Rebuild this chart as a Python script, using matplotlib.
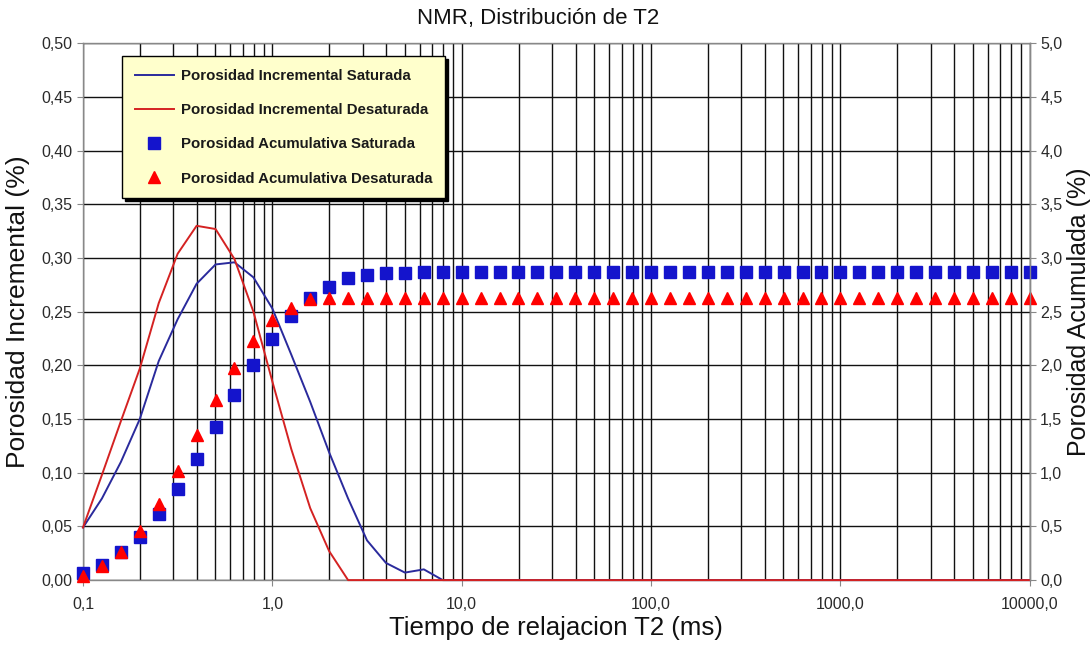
import matplotlib
matplotlib.use('Agg')
import matplotlib.pyplot as plt
from matplotlib.ticker import FixedLocator, FuncFormatter, LogLocator

plt.rcParams['font.family'] = ['Liberation Sans', 'DejaVu Sans']

# T2 sample times: 10 points per decade from 0,1 to 10000 ms
mantissas = [1.0, 1.259, 1.585, 1.995, 2.512, 3.162, 3.981, 5.012, 6.310, 7.943]
decades = [0.1, 1.0, 10.0, 100.0, 1000.0]
t2 = [m * d for d in decades for m in mantissas] + [10000.0]

# incremental porosity (%), left axis
inc_sat = [0.049, 0.076, 0.110, 0.150, 0.204, 0.243, 0.276, 0.294, 0.296, 0.282,
           0.253, 0.210, 0.166, 0.119, 0.076, 0.037, 0.016, 0.007, 0.010, 0.000,
           0, 0, 0, 0, 0, 0, 0, 0, 0, 0,
           0, 0, 0, 0, 0, 0, 0, 0, 0, 0,
           0, 0, 0, 0, 0, 0, 0, 0, 0, 0, 0]
inc_desat = [0.049, 0.098, 0.148, 0.197, 0.258, 0.304, 0.330, 0.327, 0.299, 0.250,
             0.185, 0.122, 0.067, 0.027, 0.000, 0, 0, 0, 0, 0,
             0, 0, 0, 0, 0, 0, 0, 0, 0, 0,
             0, 0, 0, 0, 0, 0, 0, 0, 0, 0,
             0, 0, 0, 0, 0, 0, 0, 0, 0, 0, 0]

# cumulative porosity (%), right axis
acu_sat = [0.07, 0.14, 0.26, 0.40, 0.62, 0.85, 1.13, 1.43, 1.72, 2.00,
           2.25, 2.46, 2.63, 2.73, 2.81, 2.84, 2.86, 2.86, 2.87, 2.87,
           2.87, 2.87, 2.87, 2.87, 2.87, 2.87, 2.87, 2.87, 2.87, 2.87,
           2.87, 2.87, 2.87, 2.87, 2.87, 2.87, 2.87, 2.87, 2.87, 2.87,
           2.87, 2.87, 2.87, 2.87, 2.87, 2.87, 2.87, 2.87, 2.87, 2.87, 2.87]
acu_desat = [0.04, 0.13, 0.26, 0.46, 0.71, 1.02, 1.35, 1.68, 1.98, 2.23,
             2.42, 2.53, 2.62, 2.63, 2.63, 2.63, 2.63, 2.63, 2.63, 2.63,
             2.63, 2.63, 2.63, 2.63, 2.63, 2.63, 2.63, 2.63, 2.63, 2.63,
             2.63, 2.63, 2.63, 2.63, 2.63, 2.63, 2.63, 2.63, 2.63, 2.63,
             2.63, 2.63, 2.63, 2.63, 2.63, 2.63, 2.63, 2.63, 2.63, 2.63, 2.63]

left_ticks = [0.0, 0.05, 0.10, 0.15, 0.20, 0.25, 0.30, 0.35, 0.40, 0.45, 0.50]
right_ticks = [0.0, 0.5, 1.0, 1.5, 2.0, 2.5, 3.0, 3.5, 4.0, 4.5, 5.0]
x_ticks = [0.1, 1.0, 10.0, 100.0, 1000.0, 10000.0]


def comma(fmt):
    return FuncFormatter(lambda v, p: (fmt % v).replace('.', ','))


fig = plt.figure(figsize=(10.92, 6.46), dpi=100)
ax = fig.add_axes([0.076, 0.102, 0.867, 0.831])
ax2 = ax.twinx()

tick_col = '#2a2a2a'

ax.set_xscale('log')
ax.set_xlim(0.1, 10000)
ax.set_ylim(0, 0.5)
ax2.set_ylim(0, 5)

ax.xaxis.set_major_locator(FixedLocator(x_ticks))
ax.xaxis.set_minor_locator(LogLocator(base=10, subs=range(2, 10)))
ax.xaxis.set_major_formatter(comma('%.1f'))
ax.xaxis.set_minor_formatter(FuncFormatter(lambda v, p: ''))
ax.yaxis.set_major_locator(FixedLocator(left_ticks))
ax.yaxis.set_major_formatter(comma('%.2f'))
ax2.yaxis.set_major_locator(FixedLocator(right_ticks))
ax2.yaxis.set_major_formatter(comma('%.1f'))

ax.grid(True, which='major', axis='both', color='#111111', lw=1.0)
ax.grid(True, which='minor', axis='x', color='#111111', lw=1.0)
ax.set_axisbelow(True)

for a in (ax, ax2):
    for s in a.spines.values():
        s.set_color('#888888')
        s.set_linewidth(1.0)
    a.tick_params(which='major', length=4, color='#888888', labelsize=11.5,
                  labelcolor=tick_col)
for side in ('top', 'bottom', 'left'):
    ax2.spines[side].set_visible(False)
ax.tick_params(which='minor', length=0)
ax.tick_params(axis='x', pad=8)

l1, = ax.plot(t2, inc_sat, color='#2a2a9c', lw=1.4, clip_on=False, zorder=3,
              label='Porosidad Incremental Saturada')
l2, = ax.plot(t2, inc_desat, color='#d42222', lw=1.4, clip_on=False, zorder=3,
              label='Porosidad Incremental Desaturada')
m1, = ax2.plot(t2, acu_sat, ls='none', marker='s', ms=8, color='#1414cc',
               mec='#1414cc', clip_on=False, label='Porosidad Acumulativa Saturada')
m2, = ax2.plot(t2, acu_desat, ls='none', marker='^', ms=9, color='#ff0000',
               mec='#ff0000', clip_on=False, label='Porosidad Acumulativa Desaturada')

leg = ax2.legend(handles=[l1, l2, m1, m2], loc='upper left',
                 bbox_to_anchor=(0.041, 0.976), borderaxespad=0,
                 prop={'weight': 'bold', 'size': 10.8},
                 facecolor='#ffffcc', edgecolor='black', framealpha=1,
                 fancybox=False, shadow={'color': 'black', 'alpha': 1},
                 labelspacing=1.35, borderpad=0.85, handlelength=2.6,
                 handletextpad=0.5)
leg.get_frame().set_linewidth(1.0)
for t in leg.get_texts():
    t.set_color('#1a1a1a')

ax.set_xlabel('Tiempo de relajacion T2 (ms)', fontsize=18.5, color='#111111', labelpad=3)
ax.set_ylabel('Porosidad Incremental (%)', fontsize=19, color='#111111', labelpad=8)
ax2.set_ylabel('Porosidad Acumulada (%)', fontsize=18, color='#111111', labelpad=3)
fig.text(0.493, 0.972, 'NMR, Distribución de T2', ha='center', va='center',
         fontsize=16, color='#111111')

fig.savefig('out.png', dpi=100)
